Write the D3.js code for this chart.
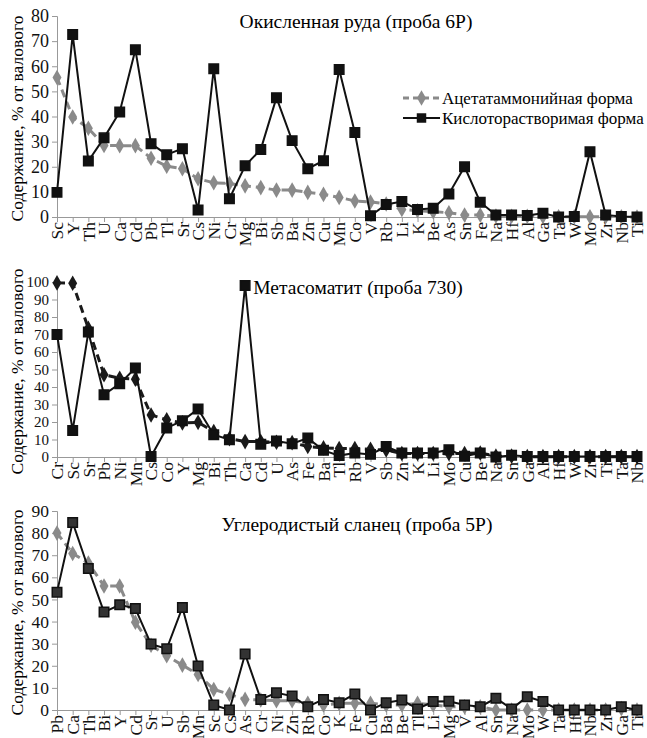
<!DOCTYPE html>
<html>
<head>
<meta charset="utf-8">
<script src="https://cdn.jsdelivr.net/npm/d3@7"></script>
<style>
  body { margin: 0; background: #fff; }
</style>
</head>
<body>
<div id="chart"></div>
<script>
// panel 1 - Окисленная руда
var cats1 = ["Sc","Y","Th","U","Ca","Cd","Pb","Tl","Sr","Cs","Ni","Cr","Mg","Bi","Sb","Ba","Zn","Cu","Mn","Co","V","Rb","Li","K","Be","As","Sn","Fe","Na","Hf","Al","Ga","Ta","W","Mo","Zr","Nb","Ti"];
var acet1 = [55.5,39.8,35.3,28.5,28.4,28.4,23.4,20.2,19.2,15.2,13.6,13.3,12.4,11.7,10.7,10.7,9.8,9,7.8,6.4,6,5.2,3,2.5,2.1,1.7,0.8,0.8,0.4,0.3,0.3,0.2,0.1,0.1,0.1,0.1,0.1,0];
var acid1 = [9.8,72.6,22.3,31.5,41.8,66.6,29.2,24.8,27.2,2.8,59,7.3,20.4,26.9,47.5,30.4,19.2,22.4,58.7,33.6,0.5,5,6.2,3,3.5,9.2,20,5.9,0.8,0.8,0.6,1.5,0,0.2,26,0.8,0.2,0];
var ticks1 = [0,10,20,30,40,50,60,70,80];

// panel 2 - Метасоматит
var cats2 = ["Cr","Sc","Sr","Pb","Ni","Mn","Cs","Co","Y","Mg","Bi","Th","Ca","Cd","U","As","Fe","Ba","Tl","Rb","V","Sb","Zn","K","Li","Mo","Cu","Be","Na","Sn","Ga","Al","Hf","W","Zr","Ti","Ta","Nb"];
var acet2 = [99.5,99.3,73.5,47,45,44.5,24,21.3,19.5,19.8,14.6,10.5,8.8,8.9,8.4,8.2,6,5.2,4.8,4.8,4.4,4,2,2,2,2,2,2.3,0.5,0.5,0.2,0.2,0.2,0.2,0.2,0.2,0.2,0.2];
var acid2 = [70,15.2,71.4,35.6,41.9,50.8,0.3,16.6,20.7,27.4,12.7,9.9,98,7.3,9.2,7.6,10.8,3.8,0.8,2.3,1.5,6,2.3,2.3,2.3,4.2,0.4,2.3,0,1,0.3,0.3,0.3,0.3,0.3,0.3,0.3,0.3];
var ticks2 = [0,10,20,30,40,50,60,70,80,90,100];

// panel 3 - Углеродистый сланец
var cats3 = ["Pb","Ca","Th","Bi","Y","Cd","Sr","U","Sb","Mn","Sc","Cs","As","Cr","Ni","Zn","Rb","Co","K","Fe","Cu","Ba","Be","Tl","Li","Mg","V","Al","Sn","Na","Mo","W","Ta","Hf","Nb","Zr","Ga","Ti"];
var acet3 = [80,70.8,66.5,56.1,56.1,39.7,29.3,24.5,20.3,16.1,9.3,7.1,4.8,4.5,4.2,4.2,3,2.3,3,3,3,2.3,2.3,3,2.3,1.5,1.5,1.5,0,0,0,0,0,0,0,0,0.7,0];
var acid3 = [53.3,84.8,64,44.3,47.6,45.9,29.8,27.7,46.4,19.9,2.3,0,25.3,4.8,7.8,6.3,1.5,4.8,3.3,7.2,0,3.3,4.5,0.5,3.8,4,2.3,1.5,5.3,0.5,6,3.8,0,0,0,0,1.5,0];
var ticks3 = [0,10,20,30,40,50,60,70,80,90];

var FONT = "'Liberation Serif', 'DejaVu Serif', serif";
var width = 647, height = 738;
var svg = d3.select("#chart").append("svg")
    .attr("width", width)
    .attr("height", height)
    .style("font-family", FONT);

var diamond = d3.symbol().type(d3.symbolDiamond).size(70);
var square = d3.symbol().type(d3.symbolSquare).size(90);

function drawPanel(p) {
  var x = d3.scalePoint().domain(p.cats).range([57, 637]);
  var y = d3.scaleLinear().domain([0, p.ticks[p.ticks.length - 1]]).range([p.y0, p.y1]);
  var g = svg.append("g");

  // y axis
  var ya = g.append("g")
      .attr("transform", "translate(57,0)")
      .call(d3.axisLeft(y).tickValues(p.ticks).tickSize(5).tickPadding(3))
      .attr("font-family", null);
  ya.select(".domain").attr("stroke", "#999");
  ya.selectAll(".tick line").attr("stroke", "#999");
  ya.selectAll("text").style("font-family", FONT).style("font-size", p.tickSize).attr("fill", "#111");

  // x axis
  var xa = g.append("g")
      .attr("transform", "translate(0," + p.y0 + ")")
      .call(d3.axisBottom(x).tickSize(5).tickSizeOuter(0))
      .attr("font-family", null);
  xa.select(".domain").attr("stroke", "#999");
  xa.selectAll(".tick line").attr("stroke", "#999");
  xa.selectAll("text")
      .style("font-family", FONT)
      .style("font-size", "17.5px")
      .style("text-anchor", "end")
      .attr("fill", "#111")
      .attr("transform", "rotate(-90)")
      .attr("x", -5)
      .attr("y", 0)
      .attr("dy", "0.33em");

  // y label
  g.append("text")
      .attr("transform", "translate(17," + ((p.y0 + p.y1) / 2 + 2) + ") rotate(-90)")
      .attr("text-anchor", "middle")
      .attr("dy", "0.35em")
      .style("font-size", "17.5px")
      .text("Содержание, % от валового");

  // title
  g.append("text")
      .attr("x", p.tx).attr("y", p.ty)
      .attr("text-anchor", "middle")
      .style("font-size", "19.5px")
      .text(p.title);

  var line = d3.line()
      .x(function(d, i) { return x(p.cats[i]); })
      .y(function(d) { return y(d); });

  // acetate series
  g.append("path").datum(p.acet)
      .attr("d", line)
      .attr("fill", "none")
      .attr("stroke", p.acetColor)
      .attr("stroke-width", 3)
      .attr("stroke-dasharray", "8,5");
  g.selectAll(".dm").data(p.acet).enter().append("path")
      .attr("d", diamond)
      .attr("transform", function(d, i) { return "translate(" + x(p.cats[i]) + "," + y(d) + ")"; })
      .attr("fill", p.acetColor);

  // acid series
  g.append("path").datum(p.acid)
      .attr("d", line)
      .attr("fill", "none")
      .attr("stroke", "#111")
      .attr("stroke-width", 2);
  g.selectAll(".sq").data(p.acid).enter().append("path")
      .attr("d", square)
      .attr("transform", function(d, i) { return "translate(" + x(p.cats[i]) + "," + y(d) + ")"; })
      .attr("fill", p.sqFill)
      .attr("stroke", "#111")
      .attr("stroke-width", 1.5);

  return g;
}

var g1 = drawPanel({cats: cats1, acet: acet1, acid: acid1, ticks: ticks1, y0: 217, y1: 16, tickSize: "18px",
  title: "Окисленная руда (проба 6Р)", tx: 356, ty: 28, acetColor: "#8a8a8a", sqFill: "#111"});
drawPanel({cats: cats2, acet: acet2, acid: acid2, ticks: ticks2, y0: 457, y1: 282, tickSize: "15px",
  title: "Метасоматит (проба 730)", tx: 358, ty: 294, acetColor: "#1a1a1a", sqFill: "#111"});
drawPanel({cats: cats3, acet: acet3, acid: acid3, ticks: ticks3, y0: 710, y1: 511, tickSize: "17.5px",
  title: "Углеродистый сланец (проба 5Р)", tx: 357, ty: 531, acetColor: "#8a8a8a", sqFill: "#333"});

// legend (panel 1)
var legend = [
  {name: "Ацетатаммонийная форма", color: "#8a8a8a", dash: "6,4", w: 3, sym: diamond},
  {name: "Кислоторастворимая форма", color: "#111", dash: null, w: 2, sym: square}
];
var lg = g1.selectAll(".lg").data(legend).enter().append("g")
    .attr("transform", function(d, i) { return "translate(403," + (98 + i * 20) + ")"; });
lg.append("line")
    .attr("x1", 0).attr("x2", 37)
    .attr("stroke", function(d) { return d.color; })
    .attr("stroke-width", function(d) { return d.w; })
    .attr("stroke-dasharray", function(d) { return d.dash; });
lg.append("path")
    .attr("d", function(d) { return d.sym(); })
    .attr("transform", "translate(18.5,0)")
    .attr("fill", function(d) { return d.color; });
lg.append("text")
    .attr("x", 39).attr("dy", "0.35em")
    .style("font-size", "17px")
    .text(function(d) { return d.name; });
</script>
</body>
</html>
